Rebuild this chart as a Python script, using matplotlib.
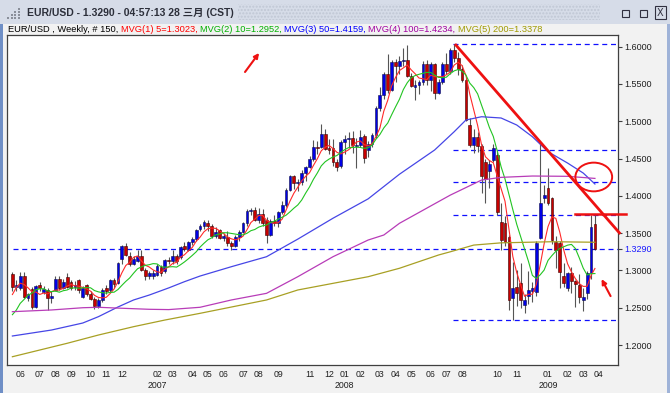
import numpy as np
import pandas as pd
import matplotlib
matplotlib.use("Agg")
import matplotlib.pyplot as plt
from matplotlib.patches import Rectangle, Ellipse
import matplotlib.transforms as mtransforms

# weekly EUR/USD candles, 150 bars (mid-May 2006 .. late March 2009)
opens = [1.2950, 1.2775, 1.2760, 1.2925, 1.2628, 1.2750, 1.2510, 1.2800, 1.2710, 1.2740,
         1.2625, 1.2740, 1.2890, 1.2770, 1.2910, 1.2850, 1.2780, 1.2870, 1.2650, 1.2800,
         1.2680, 1.2620, 1.2520, 1.2610, 1.2760, 1.2740, 1.2870, 1.2830, 1.3150, 1.3330,
         1.3190, 1.3090, 1.3130, 1.3190, 1.3000, 1.2920, 1.2930, 1.2940, 1.3050, 1.2990,
         1.3140, 1.3130, 1.3190, 1.3180, 1.3330, 1.3280, 1.3380, 1.3420, 1.3560, 1.3590,
         1.3640, 1.3600, 1.3460, 1.3540, 1.3440, 1.3450, 1.3370, 1.3330, 1.3450, 1.3520,
         1.3630, 1.3800, 1.3810, 1.3680, 1.3760, 1.3680, 1.3470, 1.3660, 1.3640, 1.3790,
         1.3880, 1.4080, 1.4260, 1.4170, 1.4190, 1.4310, 1.4390, 1.4500, 1.4660, 1.4650,
         1.4830, 1.4640, 1.4640, 1.4450, 1.4400, 1.4720, 1.4760, 1.4780, 1.4670, 1.4680,
         1.4800, 1.4610, 1.4690, 1.4810, 1.5180, 1.5350, 1.5640, 1.5420, 1.5790, 1.5740,
         1.5810, 1.5820, 1.5610, 1.5460, 1.5480, 1.5520, 1.5770, 1.5550, 1.5770, 1.5380,
         1.5520, 1.5770, 1.5680, 1.5950, 1.5850, 1.5700, 1.5560, 1.4950, 1.4680, 1.4790,
         1.4670, 1.4450, 1.4330, 1.4480, 1.4550, 1.3650, 1.3630, 1.3450, 1.2633, 1.2780,
         1.2830, 1.2530, 1.2660, 1.2720, 1.2715, 1.3430, 1.3970, 1.4100, 1.3970, 1.3385,
         1.3370, 1.2920, 1.2770, 1.2960, 1.2860, 1.2800, 1.2610, 1.2700, 1.2966, 1.3620]
highs = [1.2979, 1.2870, 1.2980, 1.2975, 1.2700, 1.2780, 1.2800, 1.2850, 1.2790, 1.2760,
         1.2720, 1.2920, 1.2930, 1.2880, 1.2960, 1.2870, 1.2860, 1.2880, 1.2790, 1.2820,
         1.2720, 1.2650, 1.2630, 1.2760, 1.2800, 1.2880, 1.2900, 1.3110, 1.3340, 1.3367,
         1.3250, 1.3190, 1.3270, 1.3280, 1.3030, 1.2990, 1.3010, 1.3080, 1.3070, 1.3160,
         1.3180, 1.3280, 1.3220, 1.3330, 1.3380, 1.3400, 1.3450, 1.3560, 1.3620, 1.3680,
         1.3680, 1.3620, 1.3580, 1.3560, 1.3500, 1.3530, 1.3400, 1.3470, 1.3540, 1.3650,
         1.3820, 1.3840, 1.3852, 1.3840, 1.3830, 1.3710, 1.3690, 1.3740, 1.3800, 1.3930,
         1.4110, 1.4280, 1.4280, 1.4220, 1.4350, 1.4400, 1.4530, 1.4750, 1.4730, 1.4967,
         1.4890, 1.4760, 1.4760, 1.4490, 1.4750, 1.4810, 1.4850, 1.4870, 1.4780, 1.4880,
         1.4830, 1.4740, 1.4840, 1.5200, 1.5460, 1.5660, 1.5905, 1.5820, 1.5830, 1.5880,
         1.5980, 1.6019, 1.5650, 1.5560, 1.5560, 1.5810, 1.5820, 1.5800, 1.5780, 1.5570,
         1.5800, 1.5920, 1.5980, 1.6038, 1.5930, 1.5760, 1.5580, 1.5050, 1.4900, 1.4860,
         1.4700, 1.4500, 1.4480, 1.4700, 1.4600, 1.3900, 1.3730, 1.3480, 1.3110, 1.3000,
         1.3100, 1.2680, 1.2990, 1.2850, 1.3400, 1.4710, 1.4150, 1.4370, 1.3990, 1.3460,
         1.3400, 1.3100, 1.2980, 1.3050, 1.2870, 1.2950, 1.2760, 1.2990, 1.3743, 1.3740]
lows = [1.2720, 1.2720, 1.2740, 1.2630, 1.2590, 1.2480, 1.2490, 1.2730, 1.2680, 1.2470,
        1.2570, 1.2720, 1.2740, 1.2750, 1.2760, 1.2740, 1.2740, 1.2700, 1.2630, 1.2660,
        1.2600, 1.2485, 1.2490, 1.2580, 1.2690, 1.2710, 1.2770, 1.2820, 1.3090, 1.3200,
        1.3060, 1.3070, 1.3110, 1.2990, 1.2870, 1.2880, 1.2890, 1.2920, 1.2930, 1.2960,
        1.3090, 1.3090, 1.3080, 1.3160, 1.3260, 1.3260, 1.3340, 1.3400, 1.3530, 1.3560,
        1.3530, 1.3440, 1.3440, 1.3420, 1.3400, 1.3330, 1.3270, 1.3310, 1.3400, 1.3500,
        1.3600, 1.3740, 1.3660, 1.3640, 1.3600, 1.3365, 1.3460, 1.3590, 1.3580, 1.3760,
        1.3850, 1.4060, 1.4090, 1.4060, 1.4150, 1.4200, 1.4370, 1.4470, 1.4560, 1.4640,
        1.4620, 1.4560, 1.4400, 1.4340, 1.4380, 1.4560, 1.4650, 1.4580, 1.4370, 1.4660,
        1.4440, 1.4520, 1.4650, 1.4780, 1.5140, 1.5300, 1.5380, 1.5400, 1.5530, 1.5630,
        1.5740, 1.5600, 1.5460, 1.5283, 1.5370, 1.5480, 1.5480, 1.5410, 1.5300, 1.5370,
        1.5500, 1.5640, 1.5630, 1.5800, 1.5620, 1.5530, 1.5000, 1.4660, 1.4580, 1.4590,
        1.4040, 1.3900, 1.4100, 1.4450, 1.3750, 1.3270, 1.3330, 1.2470, 1.2340, 1.2520,
        1.2500, 1.2430, 1.2550, 1.2580, 1.2660, 1.3420, 1.3900, 1.3880, 1.3360, 1.3030,
        1.2760, 1.2780, 1.2720, 1.2700, 1.2510, 1.2570, 1.2460, 1.2620, 1.2880, 1.3270]
closes = [1.2775, 1.2805, 1.2925, 1.2650, 1.2680, 1.2510, 1.2790, 1.2760, 1.2745, 1.2625,
          1.2660, 1.2890, 1.2770, 1.2850, 1.2780, 1.2770, 1.2800, 1.2740, 1.2770, 1.2680,
          1.2620, 1.2520, 1.2600, 1.2740, 1.2720, 1.2870, 1.2820, 1.3100, 1.3330, 1.3210,
          1.3080, 1.3160, 1.3190, 1.3000, 1.2920, 1.2960, 1.2965, 1.3060, 1.2960, 1.3140,
          1.3120, 1.3190, 1.3130, 1.3320, 1.3290, 1.3380, 1.3420, 1.3540, 1.3600, 1.3650,
          1.3590, 1.3460, 1.3520, 1.3440, 1.3460, 1.3370, 1.3330, 1.3450, 1.3520, 1.3630,
          1.3800, 1.3810, 1.3680, 1.3760, 1.3640, 1.3470, 1.3660, 1.3640, 1.3790, 1.3880,
          1.4080, 1.4260, 1.4170, 1.4190, 1.4300, 1.4390, 1.4500, 1.4660, 1.4640, 1.4830,
          1.4630, 1.4620, 1.4450, 1.4390, 1.4720, 1.4760, 1.4770, 1.4680, 1.4680, 1.4790,
          1.4510, 1.4700, 1.4810, 1.5180, 1.5350, 1.5640, 1.5420, 1.5790, 1.5740, 1.5810,
          1.5820, 1.5610, 1.5470, 1.5480, 1.5520, 1.5770, 1.5550, 1.5770, 1.5380, 1.5520,
          1.5770, 1.5680, 1.5950, 1.5850, 1.5700, 1.5560, 1.5020, 1.4680, 1.4790, 1.4670,
          1.4260, 1.4220, 1.4430, 1.4640, 1.3780, 1.3410, 1.3380, 1.2600, 1.2765, 1.2700,
          1.2600, 1.2600, 1.2740, 1.2760, 1.3370, 1.3900, 1.4010, 1.3900, 1.3410, 1.3270,
          1.2980, 1.2830, 1.2960, 1.2860, 1.2820, 1.2640, 1.2650, 1.2966, 1.3586, 1.3290]
# closes of the nine weeks before the first bar (needed for the 5/10 averages)
prior_closes = [1.2190, 1.2020, 1.2120, 1.2120, 1.2230, 1.2340, 1.2630, 1.2740, 1.2900]

# long moving averages (bar index, value)
ma50_idx = [0, 10, 18, 22, 27, 31, 35, 40, 44, 48, 56, 65, 73, 82, 91, 99, 108, 113, 116,
            120, 125, 129, 133, 137, 142, 146, 149]
ma50_val = [1.2121, 1.2201, 1.2295, 1.2380, 1.2510, 1.2604, 1.2670, 1.2766, 1.2849, 1.2925,
            1.3050, 1.3184, 1.3420, 1.3700, 1.3960, 1.4290, 1.4615, 1.4860, 1.5017, 1.5061,
            1.5044, 1.4950, 1.4793, 1.4592, 1.4440, 1.4306, 1.4159]
ma100_idx = [0, 10, 18, 22, 27, 35, 40, 48, 56, 65, 73, 82, 91, 95, 99, 112, 120, 125, 133,
             142, 149]
ma100_val = [1.2447, 1.2470, 1.2500, 1.2506, 1.2495, 1.2479, 1.2475, 1.2506, 1.2604, 1.2693,
             1.2916, 1.3184, 1.3408, 1.3475, 1.3632, 1.4010, 1.4212, 1.4248, 1.4266, 1.4262,
             1.4234]
ma200_idx = [0, 14, 22, 31, 39, 48, 65, 73, 82, 91, 99, 109, 112, 118, 125, 138, 149]
ma200_val = [1.1843, 1.2023, 1.2134, 1.2246, 1.2335, 1.2425, 1.2604, 1.2738, 1.2827, 1.2916,
             1.3029, 1.3207, 1.3250, 1.3340, 1.3370, 1.3385, 1.3378]

last_price = 1.3290
level_lines = [1.6038, 1.4620, 1.4190, 1.3750, 1.2330]
skip_months = ["2007-01", "2007-10", "2008-09", "2008-12"]

W, H = 670, 393
fig = plt.figure(figsize=(W / 100, H / 100), dpi=100)
fig.patch.set_facecolor("#f2f2f2")


def fx(px):
    return px / W


def fy(py):
    return 1 - py / H


# window chrome
fig.add_artist(Rectangle((0, fy(24)), 1, 24 / H, transform=fig.transFigure,
                         fc="#d6dce8", ec="none"))
fig.add_artist(Rectangle((fx(238), fy(20)), fx(362), 16 / H, transform=fig.transFigure,
                         fc="none", ec="#c0c7d4", lw=0, hatch="....."))
fig.add_artist(Rectangle((0, 0), fx(3), fy(24), transform=fig.transFigure,
                         fc="#6f8fc6", ec="none"))
fig.add_artist(Rectangle((fx(667), 0), fx(3), fy(24), transform=fig.transFigure,
                         fc="#9fb3d8", ec="none"))
for k in range(4):
    for m in range(k + 1):
        fig.add_artist(Rectangle((fx(7 + 3.5 * k), fy(19 - 3 * m)), fx(2), 2 / H,
                                 transform=fig.transFigure, fc="#8a8f9a", ec="none"))
for bx in (622, 640):
    fig.add_artist(Rectangle((fx(bx), fy(17)), fx(7), 7 / H, transform=fig.transFigure,
                             fc="none", ec="#303040", lw=0.8))
fig.add_artist(Rectangle((fx(655), fy(19)), fx(11), 13 / H, transform=fig.transFigure,
                         fc="none", ec="#303040", lw=0.8))
fig.text(fx(660.5), fy(12.5), "X", ha="center", va="center", fontsize=7, color="#303040")

renderer = fig.canvas.get_renderer()


def fit_text(x, y, s, width_px, **kw):
    t = fig.text(x, y, s, **kw)
    w = t.get_window_extent(renderer=renderer).width
    t.set_fontsize(t.get_fontsize() * width_px / w)
    return t


fit_text(fx(27), fy(13), "EUR/USD - 1.3290 - 04:57:13 28 三月 (CST)", 206,
         fontsize=8.5, fontweight="bold", color="#2c2f3a", va="center",
         family=["Liberation Sans", "Noto Sans CJK SC"])

# header line with moving average values
pieces = [("EUR/USD , Weekly, # 150,", "#000000"),
          ("MVG(1) 5=1.3023,", "#ff0000"),
          ("MVG(2) 10=1.2952,", "#00b000"),
          ("MVG(3) 50=1.4159,", "#0000ff"),
          ("MVG(4) 100=1.4234,", "#a000a0"),
          ("MVG(5) 200=1.3378", "#a09a00")]
size = 6.65
xpos = 8
for txt, col in pieces:
    t = fig.text(fx(xpos), fy(30), txt, color=col, fontsize=size, va="center",
                 family="Liberation Sans")
    xpos += t.get_window_extent(renderer=renderer).width + 2.3

# main axes
ax = fig.add_axes([fx(7), 28 / H, 611 / W, 330 / H])
ax.set_facecolor("white")
x = np.arange(len(closes))
o, h, l, c = map(np.array, (opens, highs, lows, closes))
up = c >= o

ax.vlines(x, l, h, color="#555555", lw=0.8, zorder=2)
ax.bar(x[up], np.maximum((c - o)[up], 0.0008), bottom=o[up], width=0.72,
       color="#0000e6", edgecolor="#10104a", lw=0.4, zorder=3)
ax.bar(x[~up], (o - c)[~up], bottom=c[~up], width=0.72,
       color="#c80000", edgecolor="#3a0000", lw=0.4, zorder=3)

allc = pd.Series(prior_closes + closes)
ma5 = allc.rolling(5).mean().to_numpy()[len(prior_closes):]
ma10 = allc.rolling(10).mean().to_numpy()[len(prior_closes):]
ax.plot(x, ma5, color="#ff2a2a", lw=0.8, zorder=4)
ax.plot(x, ma10, color="#22c422", lw=0.8, zorder=4)
ax.plot(ma50_idx, ma50_val, color="#4646e6", lw=0.9, zorder=4)
ax.plot(ma100_idx, ma100_val, color="#b83cb8", lw=0.9, zorder=4)
ax.plot(ma200_idx, ma200_val, color="#a8a024", lw=0.9, zorder=4)

ax.set_xlim(-1.38, 154.9)
ax.set_ylim(1.17321, 1.61569)

# horizontal dashed levels
ax.hlines(last_price, 0.1, 154.9, colors="#1010ff", linestyles=(0, (4, 3)), lw=0.9, zorder=1)
ax.hlines(level_lines, 112.6, 154.9, colors="#1010ff", linestyles=(0, (4, 3)), lw=0.9,
          zorder=1)

# red hand-drawn annotations
red = "#ee1111"
ax.plot([113.2, 155.5], [1.6036, 1.3489], color=red, lw=2.0, clip_on=False, zorder=6,
        solid_capstyle="butt")
ax.plot([143.8, 156.9], [1.3752, 1.3752], color=red, lw=1.8, clip_on=False, zorder=6)
ax.add_patch(Ellipse((148.7, 1.4253), 9.4, 0.0385, fill=False, ec=red, lw=1.4,
                     clip_on=False, zorder=6))
arrow = dict(arrowstyle="-|>", color=red, lw=1.5, mutation_scale=7, shrinkA=0, shrinkB=0)
ax.annotate("", xy=(63.1, 1.5916), xytext=(59.5, 1.5661), arrowprops=arrow,
            annotation_clip=False)
ax.annotate("", xy=(150.7, 1.2884), xytext=(153.0, 1.2656), arrowprops=arrow,
            annotation_clip=False)

# right price axis
ax.yaxis.tick_right()
yt = list(np.round(np.arange(1.20, 1.601, 0.05), 2)) + [last_price]
ax.set_yticks(yt)
ax.set_yticklabels([f"{v:.4f}" for v in yt])
ax.tick_params(axis="y", direction="out", length=3, width=0.8, color="#404040",
               labelsize=6.5, pad=1.5, labelcolor="#202020")
lbl = ax.get_yticklabels()[-1]
lbl.set_color("#1a1aff")
ax.get_yticklines()[-1].set_color("#1a1aff")
for t in ax.get_yticklabels():
    t.set_family("Liberation Sans")

# month / year labels
bar_dates = pd.date_range("2006-05-19", periods=len(closes) + 1, freq="W-FRI")
ticks, labels, years = [], [], {}
for i in range(1, len(bar_dates)):
    d, prev = bar_dates[i], bar_dates[i - 1]
    if d.month == prev.month or d.strftime("%Y-%m") in skip_months:
        continue
    ticks.append(i)
    labels.append(d.strftime("%m"))
    if d.year > 2006 and d.year not in years:
        years[d.year] = i
ax.set_xticks(ticks)
ax.set_xticklabels(labels, family="Liberation Sans")
ax.tick_params(axis="x", length=0, labelsize=6.3, pad=3.5, labelcolor="#202020")
trans = mtransforms.blended_transform_factory(ax.transData, ax.transAxes)
for yr, i in years.items():
    ax.text(i, -0.062, str(yr), transform=trans, ha="center", va="center",
            fontsize=6.3, family="Liberation Sans", color="#202020")

for s in ax.spines.values():
    s.set_color("#404040")
    s.set_linewidth(0.9)

fig.savefig("out.png", dpi=100, facecolor=fig.get_facecolor())
